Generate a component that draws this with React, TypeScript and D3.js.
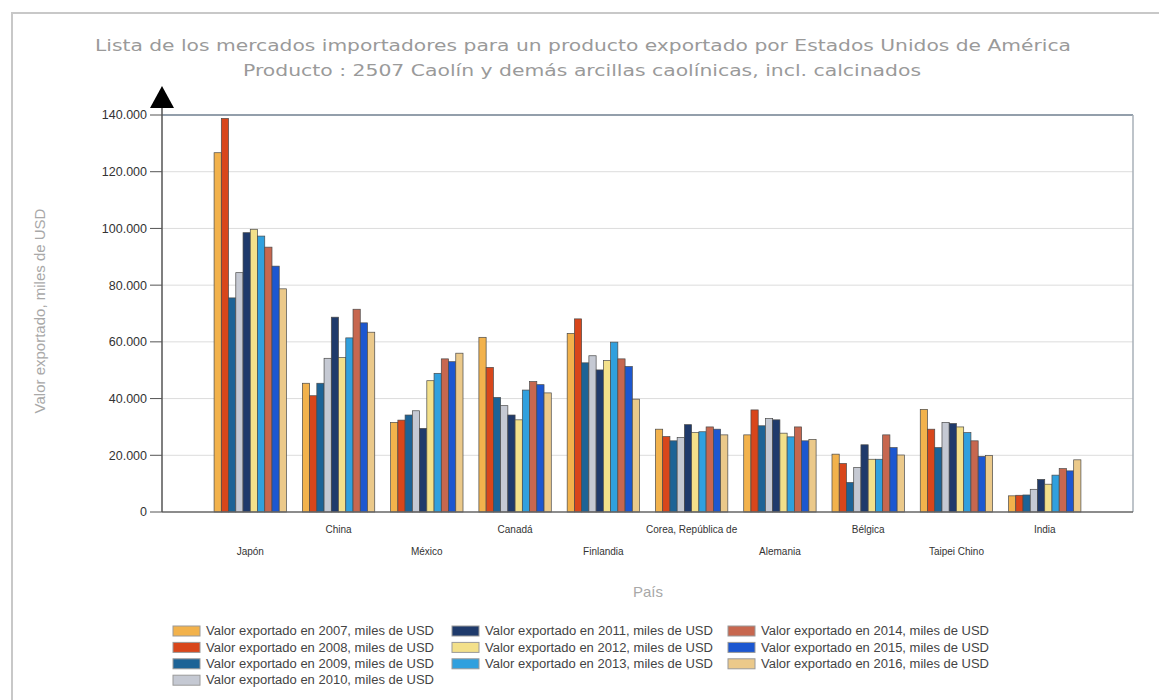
import * as React from 'react';
import * as d3 from 'd3';

const countries = ['Japón', 'China', 'México', 'Canadá', 'Finlandia', 'Corea, República de', 'Alemania', 'Bélgica', 'Taipei Chino', 'India'];
const years = [2007, 2008, 2009, 2010, 2011, 2012, 2013, 2014, 2015, 2016];

// miles de USD, one array per year, same order as countries
const v2007 = [126700, 45400, 31600, 61600, 63000, 29200, 27200, 20400, 36200, 5700];
const v2008 = [138800, 41000, 32400, 51000, 68100, 26600, 36000, 17100, 29200, 5900];
const v2009 = [75500, 45400, 34200, 40400, 52600, 25100, 30400, 10400, 22700, 6000];
const v2010 = [84400, 54200, 35700, 37500, 55100, 26300, 33000, 15700, 31600, 8000];
const v2011 = [98500, 68700, 29500, 34200, 50100, 30800, 32500, 23700, 31200, 11500];
const v2012 = [99700, 54500, 46300, 32500, 53400, 28000, 27800, 18600, 30000, 9800];
const v2013 = [97300, 61400, 48900, 43000, 59900, 28300, 26500, 18600, 28000, 13000];
const v2014 = [93400, 71500, 54000, 46000, 54000, 30000, 30000, 27200, 25100, 15300];
const v2015 = [86700, 66700, 53000, 44900, 51300, 29200, 25100, 22700, 19600, 14500];
const v2016 = [78700, 63400, 56000, 42000, 39800, 27200, 25600, 20100, 19900, 18400];

const yTicks = [0, 20000, 40000, 60000, 80000, 100000, 120000, 140000];
const colors = ['#F2B24C', '#D8461B', '#1D6396', '#C5C9D3', '#1F3A6B', '#F3E08A', '#30A0DE', '#C7674F', '#1C57D0', '#EBC98A'];

const series = [v2007, v2008, v2009, v2010, v2011, v2012, v2013, v2014, v2015, v2016];

const W = 1159;
const H = 700;
const margin = { top: 115, right: 26, bottom: 188, left: 162 };

const locale = d3.formatLocale({ decimal: ',', thousands: '.', grouping: [3], currency: ['', ''] });
const fmt = locale.format(',');

const App = () => {
  const innerW = W - margin.left - margin.right;
  const innerH = H - margin.top - margin.bottom;

  // positions 1..n on a 0..n+1 axis, like the original chart
  const x = d3.scaleLinear().domain([0, countries.length + 1]).range([0, innerW]);
  const y = d3.scaleLinear().domain([0, 140000]).range([innerH, 0]);
  const step = x(1) - x(0);
  const inner = d3.scaleBand<number>().domain(d3.range(years.length)).range([-step * 0.41, step * 0.41]);

  const sans = 'Liberation Sans, Arial, sans-serif';
  const verdana = 'DejaVu Sans, Verdana, sans-serif';

  const legendPos = (i: number) => {
    if (i < 4) return [173, 631 + i * 16.4];
    if (i < 7) return [452, 631 + (i - 4) * 16.4];
    return [728, 631 + (i - 7) * 16.4];
  };

  return (
    <svg width={W} height={H} style={{ position: 'absolute', left: 0, top: 0, background: '#fff' }}>
      <rect x={12} y={13} width={1200} height={720} fill="#fff" stroke="#c8c8c8" strokeWidth={2} />

      <text x={583} y={51} textAnchor="middle" fontFamily={verdana} fontSize={16.5} fill="#9a9a9a" textLength={976} lengthAdjust="spacingAndGlyphs">
        Lista de los mercados importadores para un producto exportado por Estados Unidos de América
      </text>
      <text x={582} y={76} textAnchor="middle" fontFamily={verdana} fontSize={16.5} fill="#9a9a9a" textLength={678} lengthAdjust="spacingAndGlyphs">
        Producto : 2507 Caolín y demás arcillas caolínicas, incl. calcinados
      </text>

      <g transform={`translate(${margin.left},${margin.top})`}>
        {yTicks.map(t => (
          <g key={t} transform={`translate(0,${y(t)})`}>
            {t > 0 && t < 140000 && <line x1={0} x2={innerW} stroke="#dcdcdc" />}
            <line x1={-12} x2={0} stroke="#555" />
            <text x={-15} dy="0.35em" textAnchor="end" fontFamily={sans} fontSize={12.5} fill="#333">{fmt(t)}</text>
          </g>
        ))}

        {series.map((vals, s) => (
          <g key={years[s]}>
            {vals.map((v, c) => (
              <rect
                key={countries[c]}
                x={x(c + 1) + inner(s)!}
                y={y(v)}
                width={inner.bandwidth()}
                height={innerH - y(v)}
                fill={colors[s]}
                stroke="#4a4a4a"
                strokeWidth={0.7}
              />
            ))}
          </g>
        ))}

        <line x1={0} x2={innerW} y1={0} y2={0} stroke="#6f7f8f" strokeWidth={1.5} />
        <line x1={innerW} x2={innerW} y1={0} y2={innerH} stroke="#a8b0b8" strokeWidth={1.5} />
        <line x1={0} x2={innerW} y1={innerH} y2={innerH} stroke="#666" strokeWidth={1.5} />
        <line x1={0} x2={0} y1={-8} y2={innerH} stroke="#555" strokeWidth={1.5} />
        <polygon points="-12,-7 12,-7 0,-29" fill="#000" />

        {countries.map((c, i) => (
          <text key={c} x={x(i + 1)} y={innerH + (i % 2 === 0 ? 43 : 21)} textAnchor="middle" fontFamily={sans} fontSize={10} fill="#333">
            {c}
          </text>
        ))}
      </g>

      <text transform="translate(45,311) rotate(-90)" textAnchor="middle" fontFamily={sans} fontSize={15} fill="#a8a8a8">
        Valor exportado, miles de USD
      </text>
      <text x={648} y={597} textAnchor="middle" fontFamily={sans} fontSize={15} fill="#a8a8a8">País</text>

      {years.map((yr, i) => {
        const [lx, ly] = legendPos(i);
        return (
          <g key={yr} transform={`translate(${lx},${ly})`}>
            <rect x={0} y={-5} width={27} height={10} fill={colors[i]} stroke="#9a9a9a" />
            <text x={33} dy="0.35em" fontFamily={sans} fontSize={12} fill="#444" textLength={228} lengthAdjust="spacingAndGlyphs">
              {`Valor exportado en ${yr}, miles de USD`}
            </text>
          </g>
        );
      })}
    </svg>
  );
};

export default App;
